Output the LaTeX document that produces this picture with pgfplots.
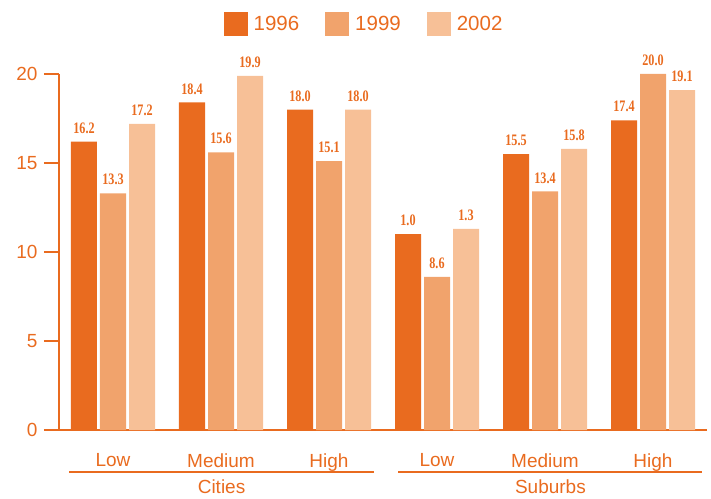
\documentclass[border=0pt]{standalone}
\usepackage{fontspec}
\setmainfont{Liberation Sans}
\newfontfamily\valfont[FakeStretch=0.76]{Liberation Serif}
\usepackage{pgfplots}
\pgfplotsset{compat=1.18}
\usepackage{pgfplotstable}
\definecolor{cA}{HTML}{E96B1F}
\definecolor{cB}{HTML}{F1A36C}
\definecolor{cC}{HTML}{F7C097}
\definecolor{txt}{HTML}{E96B1F}

\pgfplotstableread{
x y lab
0 16.2 16.2
1 18.4 18.4
2 18.0 18.0
3 11.0 1.0
4 15.5 15.5
5 17.4 17.4
}\tA
\pgfplotstableread{
x y lab
0 13.3 13.3
1 15.6 15.6
2 15.1 15.1
3 8.6 8.6
4 13.4 13.4
5 20.0 20.0
}\tB
\pgfplotstableread{
x y lab
0 17.2 17.2
1 19.9 19.9
2 18.0 18.0
3 11.3 1.3
4 15.8 15.8
5 19.1 19.1
}\tC

\begin{document}
\begin{tikzpicture}
\path[use as bounding box] (-59pt,-68pt) rectangle (652pt,430pt);
\begin{axis}[
  at={(0pt,0pt)}, anchor=south west,
  scale only axis, width=648pt, height=356pt,
  xmin=-0.5, xmax=5.5, ymin=0, ymax=20,
  ybar=3pt, bar width=26pt,
  axis x line*=bottom, axis y line*=left,
  axis line style={txt, line width=1.6pt, -},
  ytick={0,5,10,15,20},
  major tick length=15pt, tick align=outside,
  y tick style={txt, line width=1.6pt},
  xtick={0,1,2,3,4,5},
  xticklabels={Low,Medium,High,Low,Medium,High},
  x tick style={draw=none},
  tick label style={text=txt, font=\fontsize{19}{21}\selectfont},
  xticklabel style={yshift=-5pt},
  yticklabel style={xshift=-3pt},
  /pgf/number format/assume math mode=true,
  clip=false,
  nodes near coords, point meta=explicit symbolic,
  nodes near coords style={font=\valfont\bfseries\fontsize{16}{18}\selectfont, text=txt, inner sep=0pt, yshift=8pt},
  legend style={at={(0.4707,1.14)}, anchor=center, draw=none, fill=none,
    legend columns=3, font=\fontsize{20.5}{22}\selectfont, text=txt,
    /tikz/every odd column/.append style={column sep=4pt},
    /tikz/every even column/.append style={column sep=24pt}},
  legend image code/.code={\fill[#1] (0pt,-12pt) rectangle (24pt,12pt);},
]
\addplot[fill=cA, draw=none] table[x=x, y=y, meta=lab] {\tA};
\addplot[fill=cB, draw=none] table[x=x, y=y, meta=lab] {\tB};
\addplot[fill=cC, draw=none] table[x=x, y=y, meta=lab] {\tC};
\legend{1996,1999,2002}
\draw[txt, line width=1.6pt] (axis cs:-0.407,-2.36) -- (axis cs:2.417,-2.36);
\draw[txt, line width=1.6pt] (axis cs:2.639,-2.36) -- (axis cs:5.454,-2.36);
\node[text=txt, font=\fontsize{19}{21}\selectfont] at (axis cs:1.005,-3.2) {Cities};
\node[text=txt, font=\fontsize{19}{21}\selectfont] at (axis cs:4.05,-3.2) {Suburbs};
\end{axis}
\end{tikzpicture}
\end{document}
